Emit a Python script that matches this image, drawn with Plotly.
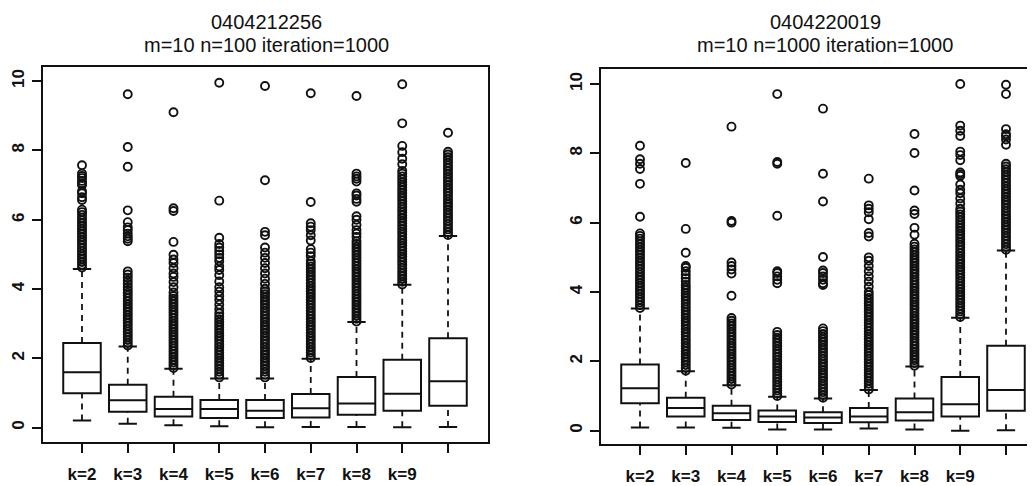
import plotly.graph_objects as go

# ---------------- data ----------------
categories = ["k=2", "k=3", "k=4", "k=5", "k=6", "k=7", "k=8", "k=9", ""]
positions = [1, 2, 3, 4, 5, 6, 7, 8, 9]

title_left = ["0404212256", "m=10 n=100 iteration=1000"]
title_right = ["0404220019", "m=10 n=1000 iteration=1000"]
y_ticks = [0, 2, 4, 6, 8, 10]

# left panel (n=100)
left_lo = [0.21, 0.11, 0.07, 0.04, 0.01, 0.02, 0.02, 0.01, 0.02]
left_q1 = [0.99, 0.46, 0.32, 0.28, 0.28, 0.29, 0.37, 0.49, 0.63]
left_med = [1.60, 0.79, 0.54, 0.54, 0.49, 0.56, 0.70, 0.98, 1.34]
left_q3 = [2.44, 1.24, 0.89, 0.80, 0.80, 0.97, 1.46, 1.96, 2.58]
left_hi = [4.58, 2.34, 1.70, 1.42, 1.42, 1.99, 3.05, 4.12, 5.53]
left_out = [
    [4.62, 4.70, 4.78, 4.86, 4.94, 5.02, 5.10, 5.18, 5.26, 5.34, 5.42, 5.50, 5.58, 5.66, 5.74,
     5.82, 5.90, 5.98, 6.06, 6.14, 6.22, 6.29, 6.57, 6.65, 6.76, 6.82, 7.00, 7.05, 7.12, 7.20,
     7.26, 7.33, 7.57],
    [2.37, 2.45, 2.53, 2.61, 2.69, 2.77, 2.85, 2.93, 3.01, 3.09, 3.17, 3.25, 3.33, 3.41, 3.49,
     3.57, 3.65, 3.73, 3.81, 3.89, 3.97, 4.06, 4.15, 4.24, 4.33, 4.42, 4.51, 5.38, 5.45, 5.52,
     5.60, 5.70, 5.78, 5.93, 6.27, 7.53, 8.10, 9.62],
    [1.72, 1.80, 1.88, 1.96, 2.04, 2.12, 2.20, 2.28, 2.36, 2.44, 2.52, 2.60, 2.68, 2.76, 2.84,
     2.92, 3.00, 3.08, 3.16, 3.24, 3.32, 3.40, 3.48, 3.56, 3.64, 3.72, 3.80, 3.90, 4.05, 4.20,
     4.35, 4.45, 4.60, 4.75, 4.85, 4.99, 5.36, 6.25, 6.33, 9.10],
    [1.45, 1.53, 1.61, 1.69, 1.77, 1.85, 1.93, 2.01, 2.09, 2.17, 2.25, 2.33, 2.41, 2.49, 2.57,
     2.65, 2.73, 2.81, 2.89, 2.97, 3.05, 3.13, 3.21, 3.30, 3.42, 3.55, 3.68, 3.80, 3.93, 4.05,
     4.22, 4.40, 4.55, 4.65, 4.80, 4.90, 5.00, 5.10, 5.20, 5.30, 5.48, 6.55, 9.95],
    [1.45, 1.53, 1.61, 1.69, 1.77, 1.85, 1.93, 2.01, 2.09, 2.17, 2.25, 2.33, 2.41, 2.49, 2.57,
     2.65, 2.73, 2.81, 2.89, 2.97, 3.05, 3.13, 3.21, 3.29, 3.37, 3.45, 3.53, 3.61, 3.69, 3.77,
     3.85, 3.93, 4.01, 4.15, 4.30, 4.45, 4.60, 4.75, 4.90, 5.05, 5.20, 5.55, 5.65, 7.14, 9.86],
    [2.01, 2.09, 2.17, 2.25, 2.33, 2.41, 2.49, 2.57, 2.65, 2.73, 2.81, 2.89, 2.97, 3.05, 3.13,
     3.21, 3.29, 3.37, 3.45, 3.53, 3.61, 3.69, 3.77, 3.85, 3.93, 4.01, 4.09, 4.17, 4.25, 4.33,
     4.41, 4.49, 4.57, 4.65, 4.73, 4.81, 4.95, 5.05, 5.15, 5.40, 5.55, 5.70, 5.80, 5.90, 6.51,
     9.65],
    [3.06, 3.14, 3.22, 3.30, 3.38, 3.46, 3.54, 3.62, 3.70, 3.78, 3.86, 3.94, 4.02, 4.10, 4.18,
     4.26, 4.34, 4.42, 4.50, 4.58, 4.66, 4.74, 4.82, 4.90, 4.98, 5.06, 5.14, 5.22, 5.30, 5.38,
     5.50, 5.60, 5.70, 5.85, 6.00, 6.10, 6.52, 6.60, 6.70, 6.76, 7.10, 7.18, 7.25, 7.33, 9.57],
    [4.13, 4.21, 4.29, 4.37, 4.45, 4.53, 4.61, 4.69, 4.77, 4.85, 4.93, 5.01, 5.09, 5.17, 5.25,
     5.33, 5.41, 5.49, 5.57, 5.65, 5.73, 5.81, 5.89, 5.97, 6.05, 6.13, 6.21, 6.29, 6.37, 6.45,
     6.53, 6.61, 6.69, 6.77, 6.85, 6.93, 7.01, 7.09, 7.17, 7.25, 7.33, 7.41, 7.60, 7.76, 7.95,
     8.13, 8.78, 9.91],
    [5.56, 5.64, 5.72, 5.80, 5.88, 5.96, 6.04, 6.12, 6.20, 6.28, 6.36, 6.44, 6.52, 6.60, 6.68,
     6.76, 6.84, 6.92, 7.00, 7.08, 7.16, 7.24, 7.32, 7.40, 7.48, 7.56, 7.64, 7.72, 7.80, 7.88,
     7.96, 8.51],
]

# right panel (n=1000)
right_lo = [0.09, 0.09, 0.08, 0.03, 0.03, 0.06, 0.03, 0.00, 0.01]
right_q1 = [0.79, 0.41, 0.31, 0.25, 0.22, 0.24, 0.29, 0.41, 0.57]
right_med = [1.22, 0.65, 0.50, 0.41, 0.38, 0.41, 0.53, 0.76, 1.17]
right_q3 = [1.91, 0.95, 0.72, 0.58, 0.53, 0.65, 0.93, 1.55, 2.45]
right_hi = [3.52, 1.71, 1.31, 0.98, 0.93, 1.17, 1.85, 3.26, 5.20]
right_out = [
    [3.54, 3.62, 3.70, 3.78, 3.86, 3.94, 4.02, 4.10, 4.18, 4.26, 4.34, 4.42, 4.50, 4.58, 4.66,
     4.74, 4.82, 4.90, 4.98, 5.06, 5.14, 5.22, 5.30, 5.38, 5.46, 5.54, 5.62, 5.69, 6.17, 7.12,
     7.55, 7.70, 7.83, 8.22],
    [1.73, 1.81, 1.89, 1.97, 2.05, 2.13, 2.21, 2.29, 2.37, 2.45, 2.53, 2.61, 2.69, 2.77, 2.85,
     2.93, 3.01, 3.09, 3.17, 3.25, 3.33, 3.41, 3.49, 3.57, 3.65, 3.73, 3.81, 3.89, 3.97, 4.05,
     4.13, 4.20, 4.30, 4.40, 4.50, 4.60, 4.70, 4.75, 5.13, 5.82, 7.72],
    [1.33, 1.41, 1.49, 1.57, 1.65, 1.73, 1.81, 1.89, 1.97, 2.05, 2.13, 2.21, 2.29, 2.37, 2.45,
     2.53, 2.61, 2.69, 2.77, 2.85, 2.93, 3.01, 3.09, 3.17, 3.25, 3.89, 4.53, 4.65, 4.75, 4.85,
     6.00, 6.05, 8.77],
    [1.00, 1.08, 1.16, 1.24, 1.32, 1.40, 1.48, 1.56, 1.64, 1.72, 1.80, 1.88, 1.96, 2.04, 2.12,
     2.20, 2.28, 2.36, 2.44, 2.52, 2.60, 2.68, 2.76, 2.85, 4.25, 4.35, 4.45, 4.55, 4.60, 6.20,
     7.70, 7.75, 9.71],
    [0.95, 1.03, 1.11, 1.19, 1.27, 1.35, 1.43, 1.51, 1.59, 1.67, 1.75, 1.83, 1.91, 1.99, 2.07,
     2.15, 2.23, 2.31, 2.39, 2.47, 2.55, 2.63, 2.71, 2.79, 2.87, 2.95, 4.20, 4.25, 4.35, 4.45,
     4.55, 4.62, 5.01, 6.61, 7.41, 9.29],
    [1.19, 1.27, 1.35, 1.43, 1.51, 1.59, 1.67, 1.75, 1.83, 1.91, 1.99, 2.07, 2.15, 2.23, 2.31,
     2.39, 2.47, 2.55, 2.63, 2.71, 2.79, 2.87, 2.95, 3.03, 3.11, 3.19, 3.27, 3.35, 3.43, 3.51,
     3.59, 3.67, 3.75, 3.83, 3.91, 4.00, 4.15, 4.30, 4.45, 4.60, 4.75, 4.90, 5.00, 5.60, 5.70,
     6.10, 6.30, 6.40, 6.50, 7.27],
    [1.87, 1.95, 2.03, 2.11, 2.19, 2.27, 2.35, 2.43, 2.51, 2.59, 2.67, 2.75, 2.83, 2.91, 2.99,
     3.07, 3.15, 3.23, 3.31, 3.39, 3.47, 3.55, 3.63, 3.71, 3.79, 3.87, 3.95, 4.03, 4.11, 4.19,
     4.27, 4.35, 4.43, 4.51, 4.59, 4.67, 4.75, 4.83, 4.91, 4.99, 5.07, 5.15, 5.23, 5.31, 5.39,
     5.65, 5.85, 6.25, 6.35, 6.93, 8.01, 8.56],
    [3.28, 3.36, 3.44, 3.52, 3.60, 3.68, 3.76, 3.84, 3.92, 4.00, 4.08, 4.16, 4.24, 4.32, 4.40,
     4.48, 4.56, 4.64, 4.72, 4.80, 4.88, 4.96, 5.04, 5.12, 5.20, 5.28, 5.36, 5.44, 5.52, 5.60,
     5.68, 5.76, 5.84, 5.92, 6.00, 6.08, 6.16, 6.24, 6.32, 6.40, 6.55, 6.70, 6.85, 6.95, 7.10,
     7.35, 7.40, 7.45, 7.80, 7.95, 8.05, 8.50, 8.65, 8.80, 10.00],
    [5.22, 5.30, 5.38, 5.46, 5.54, 5.62, 5.70, 5.78, 5.86, 5.94, 6.02, 6.10, 6.18, 6.26, 6.34,
     6.42, 6.50, 6.58, 6.66, 6.74, 6.82, 6.90, 6.98, 7.06, 7.14, 7.22, 7.30, 7.38, 7.46, 7.54,
     7.62, 7.70, 8.25, 8.40, 8.50, 8.55, 8.70, 9.71, 9.98],
]

# ---------------- styling ----------------
OFF = 8                      # the page body adds an 8px margin
W, H = 1035 - OFF, 486 - OFF
INK = "#111111"
FONT = "Liberation Sans, Arial, sans-serif"
BOX_W = 0.82
STAPLE = 0.2

fig = go.Figure()


def add_panel(xa, ya, lo, q1, med, q3, hi, outs):
    fig.add_trace(go.Box(
        x=positions, q1=q1, median=med, q3=q3,
        lowerfence=q1, upperfence=q3,
        width=BOX_W, whiskerwidth=0, boxpoints=False,
        fillcolor="rgba(255,255,255,0)",
        line=dict(color=INK, width=2),
        xaxis=xa, yaxis=ya, showlegend=False, hoverinfo="skip",
    ))
    wx, wy, sx, sy = [], [], [], []
    for p, a, b, c, d in zip(positions, lo, q1, q3, hi):
        wx += [p, p, None, p, p, None]
        wy += [a, b, None, c, d, None]
        sx += [p - STAPLE, p + STAPLE, None, p - STAPLE, p + STAPLE, None]
        sy += [a, a, None, d, d, None]
    fig.add_trace(go.Scatter(
        x=wx, y=wy, mode="lines", line=dict(color=INK, width=1.8, dash="6px,5px"),
        xaxis=xa, yaxis=ya, showlegend=False, hoverinfo="skip",
    ))
    fig.add_trace(go.Scatter(
        x=sx, y=sy, mode="lines", line=dict(color=INK, width=2),
        xaxis=xa, yaxis=ya, showlegend=False, hoverinfo="skip",
    ))
    ox, oy = [], []
    for p, vals in zip(positions, outs):
        ox += [p] * len(vals)
        oy += vals
    fig.add_trace(go.Scatter(
        x=ox, y=oy, mode="markers",
        marker=dict(symbol="circle-open", size=8, color=INK, line=dict(width=1.9, color=INK)),
        xaxis=xa, yaxis=ya, showlegend=False, hoverinfo="skip",
    ))


add_panel("x", "y", left_lo, left_q1, left_med, left_q3, left_hi, left_out)
add_panel("x2", "y2", right_lo, right_q1, right_med, right_q3, right_hi, right_out)

PX = 45.75   # px per category
PY = 35.1    # px per y unit


def xaxis_cfg(sx0, sx1, center1_sx):
    px0, px1, c1 = sx0 - OFF, sx1 - OFF, center1_sx - OFF
    return dict(
        domain=[px0 / W, min(px1 / W, 1.0)],
        range=[1 - (c1 - px0) / PX, 1 + (px1 - c1) / PX],
        tickmode="array", tickvals=positions,
        ticktext=["<b>%s</b>" % c if c else "" for c in categories],
        ticks="outside", ticklen=9, tickwidth=1.8, tickcolor=INK,
        showline=True, mirror=True, linecolor=INK, linewidth=2,
        showgrid=False, zeroline=False,
        tickfont=dict(family=FONT, size=17, color=INK),
        ticklabelstandoff=6, fixedrange=True,
    )


def yaxis_cfg(top_sy, bot_sy, zero_sy, mirror):
    top, bot, zero = top_sy - OFF, bot_sy - OFF, zero_sy - OFF
    return dict(
        domain=[(H - bot) / H, (H - top) / H],
        range=[-(bot - zero) / PY, (zero - top) / PY],
        tickmode="array", tickvals=y_ticks,
        ticktext=["<b>%d</b>" % v for v in y_ticks],
        ticks="outside", ticklen=9, tickwidth=1.8, tickcolor=INK,
        showline=True, mirror=mirror, linecolor=INK, linewidth=2,
        showgrid=False, zeroline=False, tickangle=-90,
        tickfont=dict(family=FONT, size=17, color=INK),
        ticklabelstandoff=1, fixedrange=True,
    )


fig.update_layout(
    width=W, height=H,
    margin=dict(l=0, r=0, t=0, b=0),
    paper_bgcolor="white", plot_bgcolor="white",
    xaxis=xaxis_cfg(43, 488, 82),
    yaxis=yaxis_cfg(68, 448, 433, True),
    xaxis2=dict(xaxis_cfg(601, 1035, 640), anchor="y2"),
    yaxis2=dict(yaxis_cfg(70, 450, 436, False), anchor="x2"),
    showlegend=False,
)

for cx, lines in ((266, title_left), (825, title_right)):
    for sy, txt in zip((22.5, 45), lines):
        fig.add_annotation(
            x=(cx - OFF) / W, y=(H - (sy - OFF)) / H, xref="paper", yref="paper",
            text=txt, showarrow=False, xanchor="center", yanchor="middle",
            font=dict(family=FONT, size=20, color=INK),
        )

fig.write_html("out.html")
